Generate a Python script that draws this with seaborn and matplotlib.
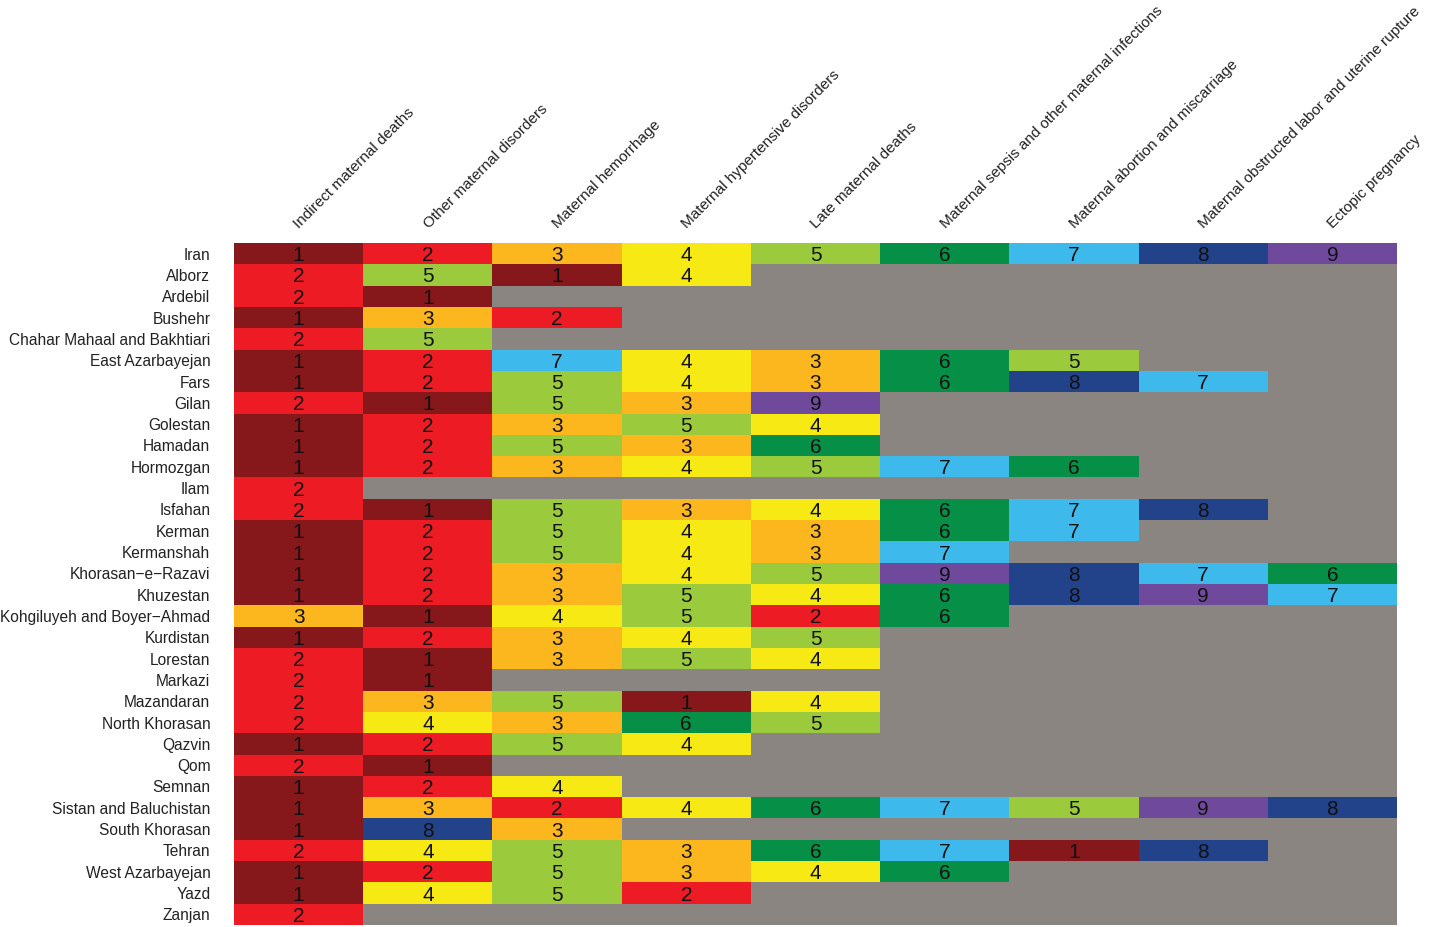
import numpy as np
import pandas as pd
import matplotlib
matplotlib.use('Agg')
import matplotlib.pyplot as plt
from matplotlib.colors import ListedColormap
from matplotlib.transforms import ScaledTranslation
import seaborn as sns

causes = ['Indirect maternal deaths', 'Other maternal disorders', 'Maternal hemorrhage',
          'Maternal hypertensive disorders', 'Late maternal deaths',
          'Maternal sepsis and other maternal infections', 'Maternal abortion and miscarriage',
          'Maternal obstructed labor and uterine rupture', 'Ectopic pregnancy']

provinces = ['Iran', 'Alborz', 'Ardebil', 'Bushehr', 'Chahar Mahaal and Bakhtiari',
             'East Azarbayejan', 'Fars', 'Gilan', 'Golestan', 'Hamadan', 'Hormozgan', 'Ilam',
             'Isfahan', 'Kerman', 'Kermanshah', 'Khorasan\u2212e\u2212Razavi', 'Khuzestan',
             'Kohgiluyeh and Boyer\u2212Ahmad', 'Kurdistan', 'Lorestan', 'Markazi', 'Mazandaran',
             'North Khorasan', 'Qazvin', 'Qom', 'Semnan', 'Sistan and Baluchistan',
             'South Khorasan', 'Tehran', 'West Azarbayejan', 'Yazd', 'Zanjan']

# ranks per province, left to right; missing cells on the right stay grey
ranks = [
    [1, 2, 3, 4, 5, 6, 7, 8, 9],
    [2, 5, 1, 4],
    [2, 1],
    [1, 3, 2],
    [2, 5],
    [1, 2, 7, 4, 3, 6, 5],
    [1, 2, 5, 4, 3, 6, 8, 7],
    [2, 1, 5, 3, 9],
    [1, 2, 3, 5, 4],
    [1, 2, 5, 3, 6],
    [1, 2, 3, 4, 5, 7, 6],
    [2],
    [2, 1, 5, 3, 4, 6, 7, 8],
    [1, 2, 5, 4, 3, 6, 7],
    [1, 2, 5, 4, 3, 7],
    [1, 2, 3, 4, 5, 9, 8, 7, 6],
    [1, 2, 3, 5, 4, 6, 8, 9, 7],
    [3, 1, 4, 5, 2, 6],
    [1, 2, 3, 4, 5],
    [2, 1, 3, 5, 4],
    [2, 1],
    [2, 3, 5, 1, 4],
    [2, 4, 3, 6, 5],
    [1, 2, 5, 4],
    [2, 1],
    [1, 2, 4],
    [1, 3, 2, 4, 6, 7, 5, 9, 8],
    [1, 8, 3],
    [2, 4, 5, 3, 6, 7, 1, 8],
    [1, 2, 5, 3, 4, 6],
    [1, 4, 5, 2],
    [2],
]

rank_colors = ['#86171A', '#ED1C24', '#FDB71E', '#F7EA14', '#9BCB3C',
               '#068F46', '#3EB9EC', '#224289', '#6F4A9C']
grey = '#8A8580'

plt.rcParams['font.family'] = ['Liberation Sans', 'DejaVu Sans']

tabla = pd.DataFrame([fila + [np.nan] * (len(causes) - len(fila)) for fila in ranks],
                     index=provinces, columns=causes)

fig = plt.figure(figsize=(14.3, 9.27), dpi=100)
ax = fig.add_axes([234 / 1430, 1 - 925 / 927, (1397 - 234) / 1430, (925 - 243) / 927])
ax.set_facecolor(grey)

sns.heatmap(tabla, ax=ax, cmap=ListedColormap(rank_colors), vmin=0.5, vmax=9.5, cbar=False,
            annot=True, fmt='.0f',
            annot_kws={'fontsize': 15, 'color': '#111111', 'va': 'center_baseline'})

ax.xaxis.tick_top()
ax.set_xlabel('')
ax.set_ylabel('')
ax.tick_params(axis='both', length=0)
ax.tick_params(axis='x', pad=12)
ax.tick_params(axis='y', pad=17)
plt.setp(ax.get_xticklabels(), rotation=45, ha='left', va='center', rotation_mode='anchor',
         fontsize=11, color='#222222')
plt.setp(ax.get_yticklabels(), rotation=0, fontsize=11.2, color='#222222', va='center_baseline')

# small nudge so the slanted labels start where they do in the original
nudge = ScaledTranslation(-2 / 100, 0, fig.dpi_scale_trans)
for etiqueta in ax.get_xticklabels():
    etiqueta.set_transform(etiqueta.get_transform() + nudge)

fig.savefig('out.png', dpi=100)
